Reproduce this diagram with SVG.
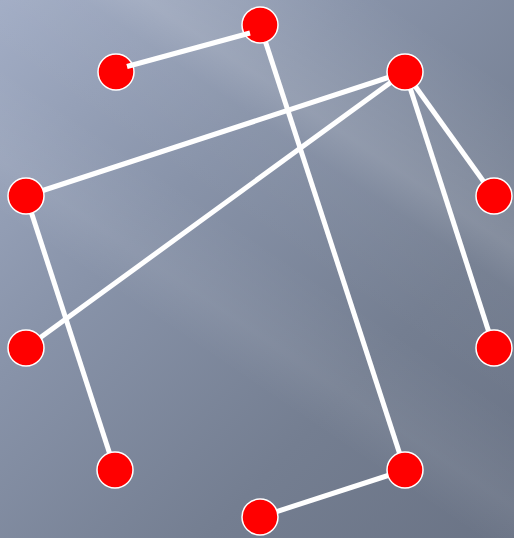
<svg xmlns="http://www.w3.org/2000/svg" width="514" height="538" viewBox="0 0 514 538">
  <defs>
    <linearGradient id="bg" x1="0" y1="0" x2="1" y2="1">
      <stop offset="0" stop-color="#a2adc5"/>
      <stop offset="0.35" stop-color="#8893a9"/>
      <stop offset="0.7" stop-color="#747e91"/>
      <stop offset="1" stop-color="#6a7385"/>
    </linearGradient>
    <linearGradient id="streak" gradientUnits="userSpaceOnUse" x1="400" y1="10" x2="150" y2="380">
      <stop offset="0" stop-color="#ffffff" stop-opacity="0"/>
      <stop offset="0.3" stop-color="#ffffff" stop-opacity="0.13"/>
      <stop offset="0.38" stop-color="#ffffff" stop-opacity="0.03"/>
      <stop offset="0.6" stop-color="#ffffff" stop-opacity="0"/>
      <stop offset="0.78" stop-color="#ffffff" stop-opacity="0.06"/>
      <stop offset="0.88" stop-color="#ffffff" stop-opacity="0"/>
      <stop offset="1" stop-color="#ffffff" stop-opacity="0"/>
    </linearGradient>
  </defs>
  <style>
    .edge { stroke: #ffffff; stroke-width: 5; fill: none; stroke-linecap: butt; }
    .node circle { fill: #ff0000; stroke: #ffffff; stroke-width: 1.5; }
  </style>
  <rect x="0" y="0" width="514" height="538" fill="url(#bg)"/>
  <rect x="0" y="0" width="514" height="538" fill="url(#streak)"/>
  <g id="connectors">
    <line class="edge" x1="260" y1="25" x2="405" y2="470"/>
    <line class="edge" x1="405" y1="72" x2="26" y2="196"/>
    <line class="edge" x1="405" y1="72" x2="26" y2="348"/>
    <line class="edge" x1="405" y1="72" x2="494" y2="196"/>
    <line class="edge" x1="405" y1="72" x2="494" y2="348"/>
    <line class="edge" x1="26" y1="196" x2="115" y2="470"/>
    <line class="edge" x1="405" y1="470" x2="260" y2="517"/>
  </g>
  <g id="nA" class="node"><circle cx="260" cy="25" r="18"/></g>
  <g id="nB" class="node"><circle cx="116" cy="72" r="18"/></g>
  <g id="nC" class="node"><circle cx="405" cy="72" r="18"/></g>
  <g id="nD" class="node"><circle cx="26" cy="196" r="18"/></g>
  <g id="nE" class="node"><circle cx="494" cy="196" r="18"/></g>
  <g id="nF" class="node"><circle cx="26" cy="348" r="18"/></g>
  <g id="nG" class="node"><circle cx="494" cy="348" r="18"/></g>
  <g id="nH" class="node"><circle cx="115" cy="470" r="18"/></g>
  <g id="nI" class="node"><circle cx="405" cy="470" r="18"/></g>
  <g id="nJ" class="node"><circle cx="260" cy="517" r="18"/></g>
  <g id="connectors-top">
    <line class="edge" x1="127" y1="66.5" x2="250" y2="33"/>
  </g>
</svg>
